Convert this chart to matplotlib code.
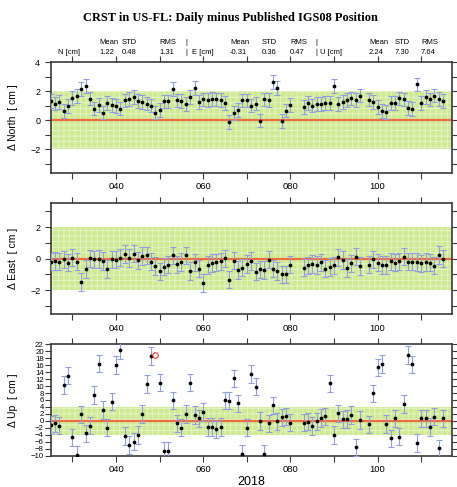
import numpy as np
import matplotlib
matplotlib.use("Agg")
import matplotlib.pyplot as plt
from matplotlib.ticker import MultipleLocator, FuncFormatter

# ---- data (day of year 2018) ----
days = list(range(25, 81)) + list(range(83, 97)) + list(range(98, 116))

north = [1.30, 1.15, 1.24, 0.62, 0.97, 1.55, 1.65, 2.16, 2.35, 1.49,
         0.80, 1.03, 0.53, 1.20, 1.03, 0.97, 0.80, 1.36, 1.47, 1.61,
         1.33, 1.24, 1.15, 1.01, 0.53, 0.71, 1.29, 1.29, 2.16, 1.36,
         1.31, 1.13, 1.61, 2.23, 1.24, 1.43, 1.38, 1.45, 1.43, 1.38,
         1.20, -0.10, 0.51, 0.69, 1.36, 1.36, 1.01, 1.15, -0.02, 1.43,
         1.38, 2.64, 2.23, -0.07, 0.67, 1.03,
         0.90, 1.20, 1.01, 1.13, 1.13, 1.20, 1.20, 2.34, 1.10, 1.25,
         1.40, 1.50, 1.40, 1.70,
         1.42, 1.27, 0.93, 0.64, 0.58, 1.20, 1.20, 1.50, 1.43, 0.85,
         0.78, 2.46, 1.20, 1.59, 1.43, 1.70, 1.47, 1.31]

east = [-0.19, -0.15, -0.19, -0.04, -0.26, 0.06, -0.19, -1.47, -0.66, 0.02,
        -0.04, -0.02, -0.15, -0.66, -0.04, -0.06, 0.06, 0.30, 0.04, 0.32,
        -0.11, 0.17, 0.21, -0.19, -0.47, -0.81, -0.51, -0.38, 0.21, -0.36,
        -0.21, 0.21, -0.77, -0.23, -0.64, -1.53, -0.40, -0.28, -0.23, -0.18,
        0.02, -1.32, -0.13, -0.72, -0.57, -0.34, -0.15, -0.83, -0.68, -0.72,
        -0.06, -0.64, -0.79, -1.00, -1.00, -0.38,
        -0.57, -0.43, -0.34, -0.40, -0.23, -0.64, -0.53, -0.43, 0.09, -0.09,
        -0.60, -0.30, 0.13, -0.47,
        -0.38, -0.04, -0.26, -0.40, -0.40, -0.17, -0.26, -0.17, 0.13, -0.19,
        -0.19, -0.21, -0.30, -0.21, -0.26, -0.45, 0.23, 0.00]

up = [-1.2, -0.7, -1.4, 10.3, 13.0, -4.7, -9.8, 1.9, -3.6, -1.4,
      7.4, 16.4, 3.1, -1.9, 5.5, 16.0, 20.4, -4.3, -6.9, -6.0,
      -4.1, 2.0, 10.6, 18.6, np.nan, 11.0, -8.6, -8.6, 5.9, -0.7,
      -1.9, 2.0, 11.0, 1.7, 0.7, 2.6, -1.7, -1.7, -2.4, -1.7,
      5.9, 5.8, 12.2, 5.0, -9.5, -1.9, 13.5, 9.8, 0.0, -9.5,
      -0.7, 4.5, -0.1, 1.0, 1.3, -0.5,
      -0.5, -0.2, -1.5, -0.1, 0.8, 1.3, 10.8, -4.1, 2.2, 0.4,
      0.6, 1.7, -7.6, 0.2,
      -1.0, 7.9, 15.4, 16.3, -0.9, -5.0, 0.7, -4.5, 4.8, 18.9,
      16.2, -6.3, 0.7, 0.7, -1.7, 1.2, -7.9, 0.7]

up_outlier_day = [49]
up_outlier_val = [18.8]

sigma = {"N": 0.47, "E": 0.55, "U": 2.5}
band = {"N": 2, "E": 2, "U": 4}

comp_labels = ["N [cm]", "E [cm]", "U [cm]"]
means = ["1.22", "-0.31", "2.24"]
stds = ["0.48", "0.36", "7.30"]
rmss = ["1.31", "0.47", "7.64"]

W, H = 457, 487
plt.rcParams["font.family"] = ["Liberation Sans", "DejaVu Sans"]
plt.rcParams["hatch.linewidth"] = 0.6

fig = plt.figure(figsize=(W / 100, H / 100), dpi=100)


def px(x, y):
    return x / W, 1 - y / H


# title and stats header
fig.text(*px(230, 18), "CRST in US-FL: Daily minus Published IGS08 Position",
         family="Liberation Serif", weight="bold", fontsize=8.9,
         ha="center", va="center")
hdr = 5.5
cols = [(58, 99, 122, 159, 186), (192, 230, 262, 290, 316), (320, 369, 395, 421, None)]
for i, (c0, cm, cs, cr, bar) in enumerate(cols):
    for x, s in [(cm, "Mean"), (cs, "STD"), (cr, "RMS")]:
        fig.text(*px(x, 42), s, fontsize=hdr, ha="left", va="center")
    fig.text(*px(c0, 52), comp_labels[i], fontsize=hdr, ha="left", va="center")
    for x, s in [(cm, means[i]), (cs, stds[i]), (cr, rmss[i])]:
        fig.text(*px(x, 52), s, fontsize=hdr, ha="left", va="center")
    if bar:
        fig.text(*px(bar, 42), "|", fontsize=hdr, ha="center", va="center")
        fig.text(*px(bar, 52), "|", fontsize=hdr, ha="center", va="center")

left, right = 50.7, 451.7
panels = [
    ("N", north, "Δ North  [ cm ]", 62, 172.7, (-3.6, 4), 2),
    ("E", east, "Δ East  [ cm ]", 203.3, 314, (-3.5, 3.5), 2),
    ("U", up, "Δ Up  [ cm ]", 344.3, 455.7, (-10, 22), 2),
]

frame_col = "#3a3a3a"
for key, vals, ylab, top, bot, ylim, ystep in panels:
    ax = fig.add_axes([left / W, 1 - bot / H, (right - left) / W, (bot - top) / H])
    b = band[key]
    ax.axhspan(-b, b, facecolor="#cfea94", edgecolor="#e6f4c8", hatch="+++",
               linewidth=0, zorder=0)
    ax.axhline(0, color="#ef6c40", lw=1.6, zorder=1)
    ax.errorbar(days, vals, yerr=sigma[key], fmt="o", ms=1.7, mfc="black",
                mec="black", ecolor="#939fdc", elinewidth=0.8, capsize=2,
                capthick=0.8, zorder=3)
    if key == "U":
        ax.plot(up_outlier_day, up_outlier_val, "o", ms=4, mfc="none",
                mec="#ff3030", mew=0.8, zorder=4)

    ax.set_xlim(25, 117)
    ax.set_ylim(*ylim)
    ax.xaxis.set_major_locator(MultipleLocator(20))
    ax.xaxis.set_minor_locator(MultipleLocator(10))
    ax.xaxis.set_major_formatter(FuncFormatter(lambda v, p: f"{int(v):03d}"))
    ax.yaxis.set_major_locator(MultipleLocator(ystep))
    if key != "U":
        ax.yaxis.set_minor_locator(MultipleLocator(1))
        ax.tick_params(axis="y", labelsize=6.5)
    else:
        ax.tick_params(axis="y", labelsize=5.6, pad=1)
    ax.tick_params(which="both", direction="out", top=True, right=True,
                   color=frame_col, width=0.8)
    ax.tick_params(which="major", length=4)
    ax.tick_params(which="minor", length=4)
    ax.tick_params(axis="x", labelsize=6.8, pad=3)
    for s in ax.spines.values():
        s.set_color(frame_col)
        s.set_linewidth(1.2)
    ax.set_ylabel(ylab, fontsize=7.5)
    ax.yaxis.set_label_coords((18 - left) / (right - left), 0.5)
    if key == "U":
        ax.set_xlabel("2018", fontsize=9, labelpad=1)

fig.savefig("out.png", dpi=100)
